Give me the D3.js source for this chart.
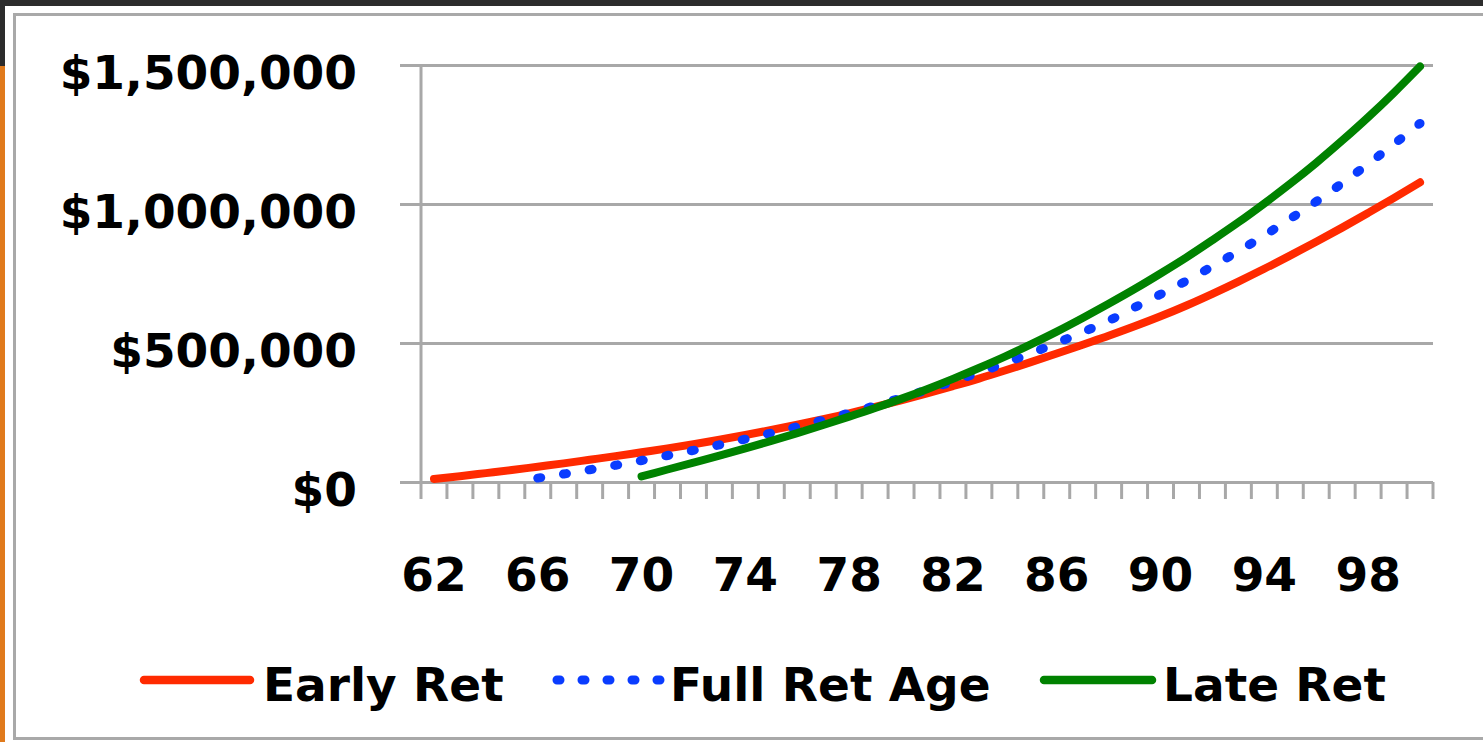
<!DOCTYPE html>
<html>
<head>
<meta charset="utf-8">
<script src="https://cdn.jsdelivr.net/npm/d3@7/dist/d3.min.js"></script>
<style>
  html, body { margin: 0; padding: 0; background: #ffffff; }
  svg { display: block; }
  text { font-family: "DejaVu Sans", sans-serif; font-weight: bold; fill: #000; }
</style>
</head>
<body>
<svg id="chart" width="1483" height="742"></svg>
<script>
// Ages on the horizontal axis (one category per year)
const ages = d3.range(62, 101);
const ageLabels = [62, 66, 70, 74, 78, 82, 86, 90, 94, 98];
const yTicks = [0, 500000, 1000000, 1500000];

// Cumulative benefits, starting at each claiming age
const earlyAges = d3.range(62, 101);
const earlyRet = [
  11000, 21000, 32000, 43000, 55000, 67000, 80000, 93000, 107000, 121000,
  136000, 152000, 169000, 187000, 206000, 226000, 247000, 270000, 294000, 319000,
  345000, 372000, 401000, 431000, 462000, 494000, 526000, 560000, 596000, 635000,
  677000, 721000, 767000, 815000, 864000, 915000, 968000, 1022000, 1078000
];
const fullAges = d3.range(66, 101);
const fullRet = [
  14000, 28700, 44100, 60300, 77400, 95200, 114000, 133700, 154400, 176100,
  198900, 222900, 248000, 274400, 302100, 331200, 361800, 393800, 427600, 462900,
  500100, 539100, 580000, 628000, 675000, 724000, 776000, 830000, 887000, 947000,
  1009000, 1075000, 1144000, 1216000, 1290000
];
const lateAges = d3.range(70, 101);
const lateRet = [
  20000, 45000, 70000, 95000, 121000, 148000, 176000, 205000, 235000, 266000,
  299000, 334000, 371000, 410000, 451000, 495000, 541000, 590000, 641000, 694000,
  750000, 808000, 870000, 934000, 1002000, 1073000, 1148000, 1228000, 1312000, 1401000,
  1495000
];

const seriesNames = ["Early Ret", "Full Ret Age", "Late Ret"];

const svg = d3.select("#chart");

// Frame around the slide
svg.append("rect").attr("x", 0).attr("y", 0).attr("width", 1483).attr("height", 742).attr("fill", "#ffffff");
svg.append("rect").attr("x", 0).attr("y", 0).attr("width", 1483).attr("height", 6).attr("fill", "#2c2c2c");
svg.append("rect").attr("x", 0).attr("y", 0).attr("width", 5).attr("height", 66).attr("fill", "#2c2c2c");
svg.append("rect").attr("x", 0).attr("y", 66).attr("width", 5).attr("height", 676).attr("fill", "#e07a1c");
svg.append("rect").attr("x", 14.5).attr("y", 14.5).attr("width", 1500).attr("height", 724)
  .attr("fill", "none").attr("stroke", "#a9a9a9").attr("stroke-width", 3);

const x = d3.scaleBand().domain(ages).range([421, 1433]).paddingInner(0).paddingOuter(0);
const y = d3.scaleLinear().domain([0, 1500000]).range([482, 65]);
const cx = a => x(a) + x.bandwidth() / 2;

const gridColor = "#a8a8a8";

// Horizontal gridlines with short outward ticks
const gy = svg.append("g").attr("transform", "translate(421,0)")
  .call(d3.axisLeft(y).tickValues(yTicks).tickSize(21).tickFormat(d3.format("$,")));
gy.select(".domain").remove();
gy.selectAll(".tick line").attr("stroke", gridColor).attr("stroke-width", 3)
  .attr("x1", -21).attr("x2", 1433 - 421);
gy.selectAll(".tick text")
  .attr("x", -64).attr("dy", null).attr("y", 23)
  .style("font-size", "47px").style("font-family", "'DejaVu Sans', sans-serif")
  .style("font-weight", "bold").attr("fill", "#000");

// Vertical axis line
svg.append("line").attr("x1", 421).attr("x2", 421).attr("y1", y(1500000)).attr("y2", y(0))
  .attr("stroke", gridColor).attr("stroke-width", 3);

// Category boundary ticks below the baseline
const bounds = ages.map(a => x(a)).concat([x.range()[1]]);
svg.append("g").selectAll("line").data(bounds).join("line")
  .attr("x1", d => d).attr("x2", d => d)
  .attr("y1", y(0)).attr("y2", y(0) + 17)
  .attr("stroke", gridColor).attr("stroke-width", 3);

// Age labels
const gx = svg.append("g").attr("transform", `translate(0,${y(0)})`)
  .call(d3.axisBottom(x).tickValues(ageLabels).tickSize(0));
gx.select(".domain").remove();
gx.selectAll(".tick text")
  .attr("y", 109).attr("dy", null)
  .style("font-size", "47px").style("font-family", "'DejaVu Sans', sans-serif")
  .style("font-weight", "bold").attr("fill", "#000");

// Series lines
const styles = [
  { color: "#ff2a00", dash: null },
  { color: "#0a3cff", dash: "3,23" },
  { color: "#008200", dash: null }
];
const data = [
  earlyAges.map((a, i) => [a, earlyRet[i]]),
  fullAges.map((a, i) => [a, fullRet[i]]),
  lateAges.map((a, i) => [a, lateRet[i]])
];
const line = d3.line().x(d => cx(d[0])).y(d => y(d[1])).curve(d3.curveMonotoneX);

svg.append("g").selectAll("path").data(data).join("path")
  .attr("d", line)
  .attr("fill", "none")
  .attr("stroke", (d, i) => styles[i].color)
  .attr("stroke-width", (d, i) => styles[i].dash ? 9 : 8)
  .attr("stroke-linecap", "round")
  .attr("stroke-linejoin", "round")
  .attr("stroke-dasharray", (d, i) => styles[i].dash);

// Legend
const legendItems = [
  { x0: 144, x1: 250, tx: 263 },
  { x0: 557, x1: 664, tx: 670 },
  { x0: 1044, x1: 1152, tx: 1163 }
];
const lg = svg.append("g");
lg.selectAll("line").data(seriesNames).join("line")
  .attr("x1", (d, i) => legendItems[i].x0).attr("x2", (d, i) => legendItems[i].x1)
  .attr("y1", 680).attr("y2", 680)
  .attr("stroke", (d, i) => styles[i].color)
  .attr("stroke-width", (d, i) => styles[i].dash ? 9 : 8.5)
  .attr("stroke-linecap", "round")
  .attr("stroke-dasharray", (d, i) => styles[i].dash ? "3,22" : null);
lg.selectAll("text").data(seriesNames).join("text")
  .attr("x", (d, i) => legendItems[i].tx).attr("y", 701)
  .style("font-size", "47px")
  .text(d => d);
</script>
</body>
</html>
